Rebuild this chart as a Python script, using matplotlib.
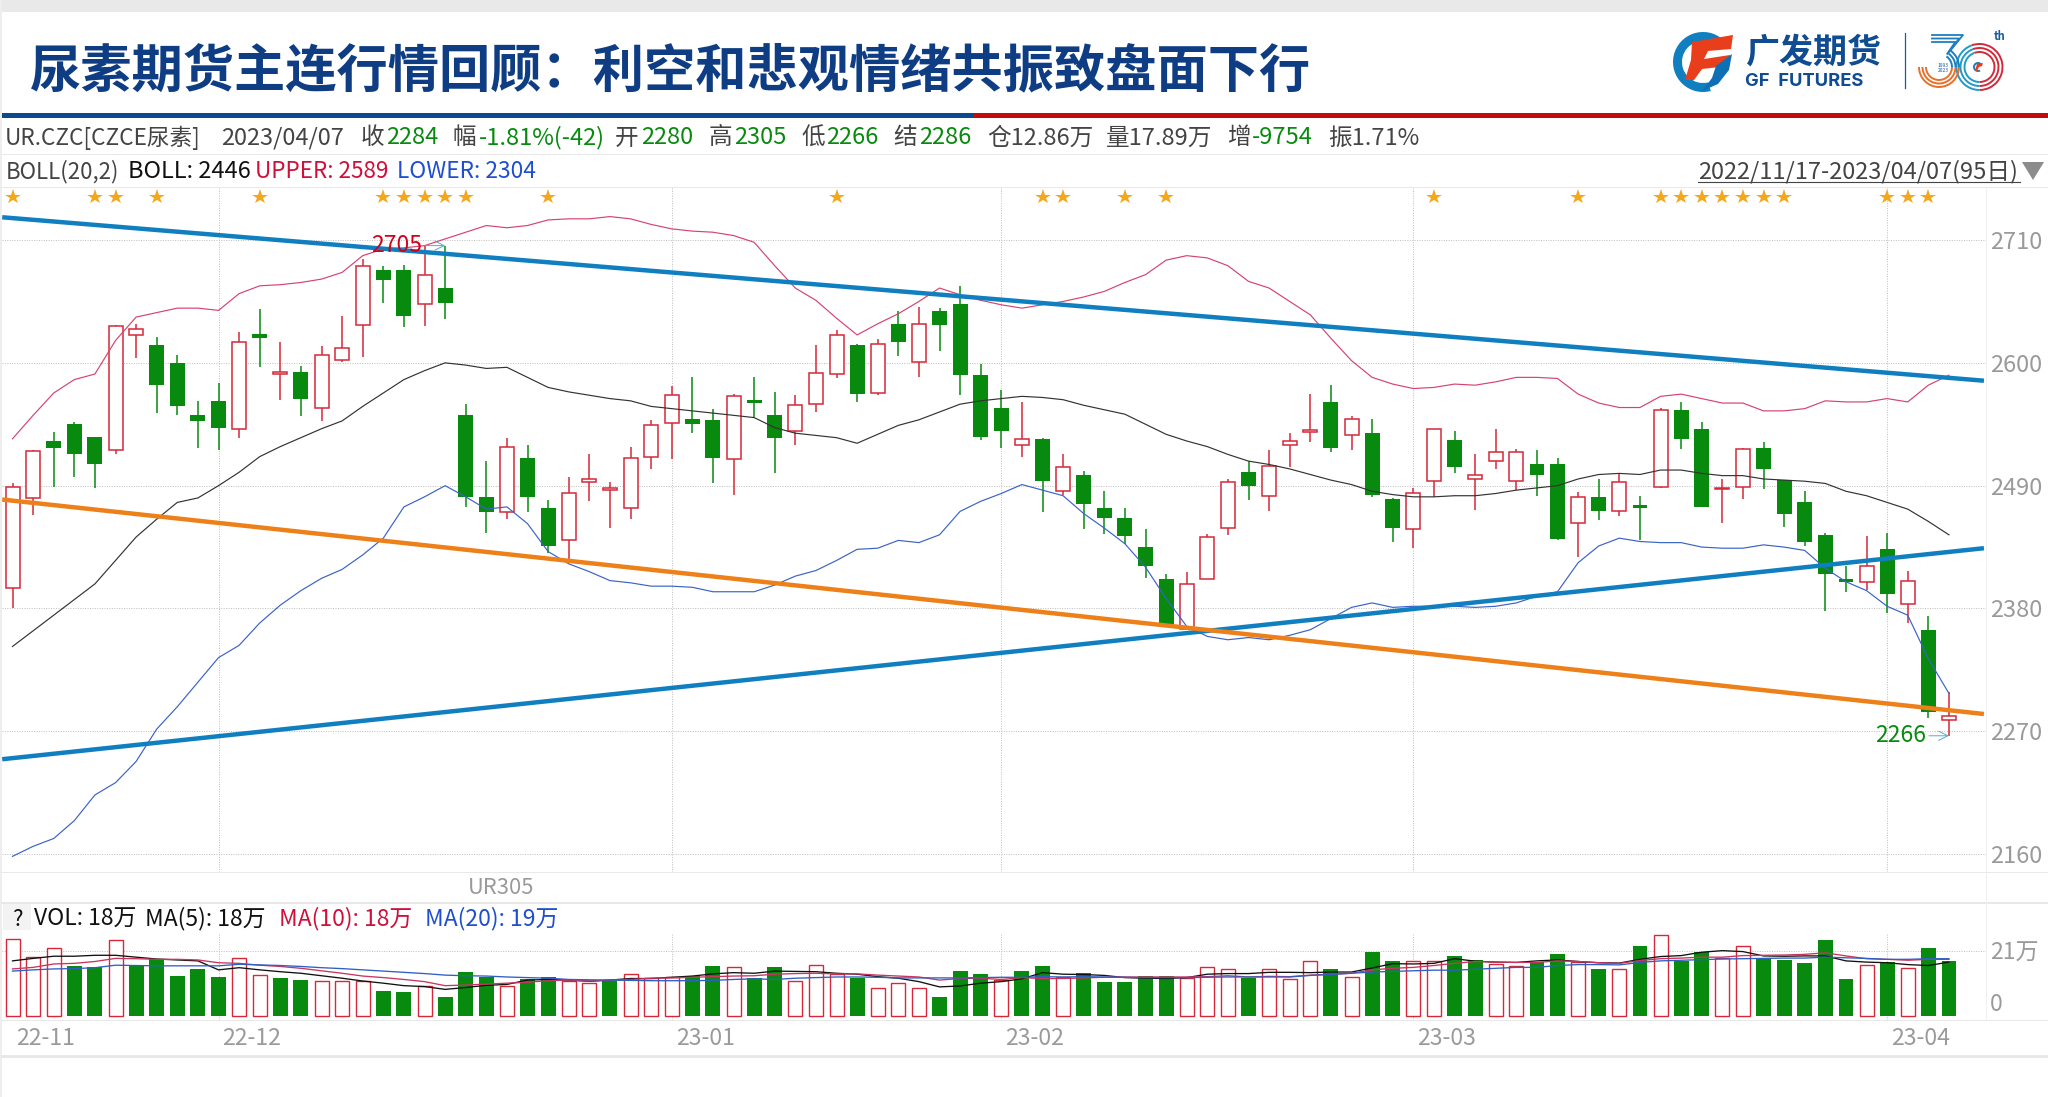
from matplotlib import pyplot as plt
from matplotlib.patches import Rectangle, Polygon, Wedge, Arc
from matplotlib.transforms import ScaledTranslation
import numpy as np

plt.rcParams['font.family'] = ['Noto Sans CJK SC', 'DejaVu Sans']

opens = [2398,2479,2530,2545,2534,2522,2625,2616,2600,2553,2566,2541,2626,2590,2592,2560,2603,2634,2683,2683,
         2653,2667,2553,2480,2466,2515,2470,2441,2493,2486,2470,2516,2546,2550,2549,2514,2567,2553,2539,2563,
         2590,2616,2573,2635,2601,2646,2653,2589,2560,2526,2532,2485,2500,2470,2461,2435,2406,2362,2406,2452,
         2502,2481,2526,2538,2565,2535,2537,2478,2451,2494,2531,2496,2512,2494,2509,2509,2457,2480,2467,2473,
         2489,2558,2541,2487,2489,2524,2495,2475,2446,2406,2404,2433,2384,2361,2280]
closes = [2489,2521,2524,2518,2509,2633,2630,2580,2561,2548,2542,2619,2622,2592,2568,2607,2613,2687,2674,2642,
          2679,2654,2480,2466,2525,2480,2436,2483,2496,2488,2515,2544,2571,2545,2515,2570,2564,2533,2562,2591,
          2625,2572,2617,2619,2635,2634,2589,2534,2539,2532,2494,2507,2474,2461,2445,2418,2366,2402,2444,2493,
          2490,2508,2530,2540,2524,2550,2482,2452,2483,2541,2507,2500,2520,2520,2500,2442,2480,2467,2493,2470,
          2558,2532,2471,2488,2523,2505,2465,2440,2411,2404,2418,2393,2405,2287,2284]
highs = [2492,2522,2538,2547,2534,2634,2635,2623,2607,2566,2582,2628,2648,2619,2597,2615,2642,2693,2687,2688,
         2705,2705,2563,2512,2533,2526,2477,2498,2518,2493,2525,2549,2579,2587,2559,2572,2587,2574,2571,2616,
         2629,2617,2621,2646,2650,2649,2669,2599,2576,2565,2533,2518,2503,2485,2470,2451,2411,2413,2447,2496,
         2512,2522,2537,2572,2580,2552,2550,2479,2488,2541,2539,2518,2541,2523,2522,2515,2484,2496,2501,2481,
         2560,2565,2547,2496,2524,2529,2495,2485,2448,2418,2445,2448,2414,2373,2305]
lows = [2380,2464,2489,2498,2488,2518,2604,2555,2553,2524,2522,2533,2596,2567,2552,2548,2601,2605,2654,2632,
        2633,2639,2471,2448,2460,2466,2430,2423,2476,2452,2460,2505,2514,2537,2492,2482,2551,2501,2526,2556,
        2586,2565,2571,2606,2587,2611,2571,2531,2524,2516,2466,2482,2451,2447,2438,2407,2363,2361,2406,2446,
        2477,2467,2507,2529,2520,2522,2480,2440,2434,2480,2501,2468,2505,2486,2481,2441,2426,2459,2463,2441,
        2488,2523,2471,2457,2478,2487,2453,2436,2378,2395,2397,2376,2367,2282,2266]

boll_upper = [2532,2553,2573,2585,2590,2620,2641,2645,2649,2649,2647,2662,2669,2670,2672,2675,2681,2696,2702,2703,
              2705,2711,2717,2723,2721,2723,2728,2729,2729,2731,2729,2724,2720,2718,2717,2714,2708,2687,2667,2656,
              2640,2625,2635,2644,2655,2667,2661,2656,2652,2649,2652,2655,2659,2664,2672,2679,2692,2696,2694,2687,
              2673,2667,2655,2643,2622,2602,2587,2581,2577,2578,2581,2580,2583,2587,2587,2586,2572,2564,2560,2560,
              2570,2572,2568,2564,2564,2557,2557,2559,2566,2565,2565,2568,2565,2580,2589]
boll_mid = [2346,2360,2374,2388,2402,2423,2444,2460,2475,2479,2490,2502,2516,2525,2533,2541,2548,2561,2573,2585,
            2593,2600,2598,2595,2596,2587,2578,2574,2571,2568,2566,2561,2559,2557,2555,2553,2551,2542,2537,2535,
            2533,2528,2536,2544,2549,2556,2563,2566,2568,2570,2569,2567,2562,2558,2554,2545,2536,2530,2525,2518,
            2512,2509,2505,2500,2495,2491,2485,2482,2480,2480,2481,2481,2483,2486,2488,2490,2496,2500,2501,2500,
            2504,2504,2501,2499,2499,2496,2495,2494,2492,2485,2481,2475,2469,2458,2446]
boll_lower = [2158,2167,2174,2190,2213,2224,2243,2272,2292,2314,2336,2347,2367,2383,2396,2407,2415,2428,2443,2471,
              2480,2490,2480,2469,2471,2456,2431,2420,2413,2405,2403,2400,2400,2399,2395,2395,2395,2401,2409,2414,
              2423,2433,2434,2441,2439,2446,2467,2476,2483,2491,2486,2481,2465,2452,2438,2417,2389,2364,2355,2352,
              2354,2352,2356,2361,2371,2381,2385,2381,2382,2382,2382,2381,2382,2385,2391,2395,2421,2436,2443,2440,
              2439,2439,2435,2434,2434,2437,2435,2432,2416,2404,2396,2382,2374,2335,2304]

# channel lines drawn on the chart, first and last point
trend_x = [-0.5, 95.7]
channel_top = [2730.4, 2584]
channel_bottom = [2245, 2434]
channel_orange = [2477.6, 2285.5]

star_bars = [0,4,5,7,12,18,19,20,21,22,26,40,50,51,54,56,69,76,80,81,82,83,84,85,86,91,92,93]

volume = [24.8,19.0,22.1,16.2,15.8,24.4,16.4,18.4,13.0,15.1,12.7,18.6,13.1,12.2,11.6,11.2,11.3,11.2,8.2,7.9,
          9.7,6.2,14.2,12.7,9.7,12.0,12.7,11.4,10.8,11.4,13.5,12.4,12.6,12.9,16.2,15.7,12.2,15.8,11.3,16.4,
          13.7,12.4,8.9,10.6,8.9,6.2,14.5,13.6,11.6,14.5,16.2,12.7,13.8,11.1,11.1,12.9,12.9,12.4,15.7,15.1,
          12.4,15.3,11.8,17.8,15.1,12.7,20.8,17.8,17.8,17.8,19.4,18.1,16.7,16.0,17.3,20.1,17.3,15.2,15.3,22.6,
          26.1,17.8,20.7,18.8,22.6,18.6,18.1,17.0,24.4,12.0,16.4,17.3,15.5,21.9,17.6]
volume_up = [1,1,1,0,0,1,0,0,0,0,0,1,1,0,0,1,1,1,0,0,
             1,0,0,0,1,0,0,1,1,0,1,1,1,0,0,1,0,0,1,1,
             1,0,1,1,1,0,0,0,1,0,0,1,0,0,0,0,0,1,1,1,
             0,1,1,1,0,1,0,0,1,1,0,0,1,1,0,0,1,0,1,0,
             1,0,0,1,1,0,0,0,0,0,1,0,1,0,0]
vol_ma5 = [17.8,18.6,19.3,19.3,19.6,19.6,19.0,18.4,18.1,17.8,14.9,15.6,14.9,14.3,13.8,13.0,12.2,11.3,10.6,9.8,
           9.5,8.6,9.2,9.9,10.2,11.6,11.8,11.6,11.2,11.6,12.1,12.1,12.5,12.9,13.6,14.0,13.8,14.5,14.4,14.3,
           13.8,13.5,12.7,12.2,11.1,9.4,9.7,10.6,11.1,12.0,14.0,13.5,13.4,13.1,12.4,12.2,12.1,12.4,13.5,13.7,
           13.7,14.1,14.1,14.0,14.2,14.2,15.5,16.9,16.8,17.0,18.5,17.7,17.4,17.3,17.8,18.1,17.6,17.2,17.1,18.3,
           19.2,19.5,20.6,21.1,20.8,19.4,19.3,19.4,19.4,17.8,17.4,17.2,16.6,16.3,17.4]
vol_ma10 = [15.2,15.7,16.8,17.0,17.6,18.6,18.5,18.3,18.3,18.1,17.2,17.0,16.4,16.0,15.4,14.6,13.8,12.9,12.4,11.8,
            11.1,9.8,10.0,10.3,10.6,10.9,11.4,11.6,11.3,11.6,11.8,12.2,12.3,12.5,12.7,12.9,13.0,13.5,13.7,13.8,
            13.6,13.6,13.2,12.9,12.6,11.6,12.1,12.2,11.8,12.4,12.1,12.1,12.3,12.5,12.6,12.6,12.6,12.6,12.7,13.0,
            12.6,12.8,12.7,13.2,13.5,13.8,14.9,15.4,15.7,16.3,17.0,17.6,17.4,17.3,17.3,17.8,17.6,17.2,17.0,17.9,
            18.5,18.7,19.0,19.0,19.5,19.6,19.7,19.9,20.4,19.4,18.5,18.3,18.0,18.3,18.3]
vol_ma20 = [14.5,14.9,15.2,15.3,15.6,16.4,16.3,16.2,16.2,16.2,16.2,16.7,16.5,16.3,16.0,15.6,15.3,14.9,14.5,14.1,
            13.7,13.2,13.0,12.9,12.6,12.4,12.2,11.8,11.7,11.6,11.5,11.4,11.4,11.4,11.5,11.8,12.0,11.8,12.2,12.4,
            12.6,12.6,12.5,12.3,12.3,12.3,12.3,12.4,12.5,12.5,12.7,12.6,12.7,12.6,12.5,12.4,12.4,12.4,12.5,12.6,
            12.6,12.6,12.6,13.1,13.4,13.8,14.2,14.4,14.6,14.8,14.8,15.1,15.4,15.7,15.7,16.3,16.6,16.6,16.5,17.3,
            17.8,18.0,18.2,18.4,18.5,18.6,18.7,18.7,19.0,18.8,18.6,18.3,18.3,18.5,18.5]

price_ticks = [2160,2270,2380,2490,2600,2710]
month_bars = [0,10,32,48,68,91]
month_labels = ["22-11","22-12","23-01","23-02","23-03","23-04"]

W, H = 2048, 1097
RED = "#d62839"
GREEN = "#078a0e"
GREY_TEXT = "#9a9a9a"
GRID = "#bdbdbd"
DARK = "#444444"
FS = 17

fig = plt.figure(figsize=(W/100, H/100), dpi=100, facecolor="white")

# whole page in pixels for the header, rules and logo
page = fig.add_axes([0, 0, 1, 1], zorder=0)
page.set_xlim(0, W)
page.set_ylim(H, 0)
page.axis("off")

def px_axes(x0, y0, x1, y1):
    ax = fig.add_axes([x0/W, 1-y1/H, (x1-x0)/W, (y1-y0)/H], zorder=1)
    ax.patch.set_visible(False)
    for s in ax.spines.values():
        s.set_visible(False)
    return ax

page.add_patch(Rectangle((0, 0), W, 12, color="#e9e9e9", lw=0))
page.add_patch(Rectangle((0, 0), 2, H, color="#eeeeee", lw=0))
page.add_patch(Rectangle((2, 113), 972, 5, color="#0c4a8f", lw=0))
page.add_patch(Rectangle((974, 113), W-974, 5, color="#c40c0c", lw=0))
for y, lw_ in [(154, 1), (187, 1), (872, 1), (903, 2), (1020, 1), (1056, 3)]:
    page.plot([2, W], [y, y], color="#e8e8e8", lw=lw_*0.72)
page.plot([1986, 1986], [187, 1020], color="#efefef", lw=0.7)

page.text(30, 71, "尿素期货主连行情回顾：利空和悲观情绪共振致盘面下行", fontsize=36.9,
          fontweight="bold", color="#0f3d84", va="center", ha="left")

# quote row
quote_row = [(5, "UR.CZC[CZCE尿素]", DARK, 16.3), (221, "2023/04/07", DARK, FS),
             (361, "收", DARK, FS), (386, "2284", GREEN, FS), (453, "幅", DARK, FS), (479, "-1.81%(-42)", GREEN, FS),
             (615, "开", DARK, FS), (641, "2280", GREEN, FS), (709, "高", DARK, FS), (734, "2305", GREEN, FS),
             (801, "低", DARK, FS), (826, "2266", GREEN, FS), (893, "结", DARK, FS), (919, "2286", GREEN, FS),
             (987, "仓12.86万", DARK, FS), (1106, "量17.89万", DARK, FS), (1227, "增", DARK, FS), (1252, "-9754", GREEN, FS),
             (1328, "振1.71%", DARK, FS)]
for x, s, c, fs in quote_row:
    page.text(x, 138, s, fontsize=fs, color=c, va="center", ha="left")

boll_row = [(6, "BOLL(20,2)", DARK, 16), (128, "BOLL: 2446", "#111111", FS),
            (255, "UPPER: 2589", "#d0103a", 16.2), (397, "LOWER: 2304", "#1f4fd0", 16.4)]
for x, s, c, fs in boll_row:
    page.text(x, 172, s, fontsize=fs, color=c, va="center", ha="left")
page.text(1698, 172, "2022/11/17-2023/04/07(95日)", fontsize=FS, color=DARK, va="center", ha="left")
page.plot([1698, 2020], [182, 182], color=DARK, lw=0.8)
page.add_patch(Polygon([(2022, 162), (2044, 162), (2033, 180)], color="#8c8c8c", lw=0))

page.text(468, 888, "UR305", fontsize=FS-1.2, color=GREY_TEXT, va="center", ha="left")
page.add_patch(Rectangle((3, 904), 28, 26, color="#f3f3f3", lw=0))
page.text(17, 919, "?", fontsize=FS-1, color="#111111", va="center", ha="center")
vol_row = [(34, "VOL: 18万", "#111111"), (145, "MA(5): 18万", "#111111"),
           (279, "MA(10): 18万", "#d0103a"), (425, "MA(20): 19万", "#1f4fd0")]
for x, s, c in vol_row:
    page.text(x, 919, s, fontsize=FS-0.5, color=c, va="center", ha="left")

# logo
page.add_patch(Wedge((1703, 62), 30, 75, 310, width=9, color="#0f7fc0", lw=0))
page.add_patch(Polygon([(1692, 42), (1733, 35), (1731, 49), (1708, 51), (1704, 59), (1730, 55), (1728, 66),
                        (1702, 69), (1694, 80), (1685, 80), (1691, 60)], color="#e83e1c", lw=0))
page.add_patch(Polygon([(1732, 54), (1729, 70), (1718, 84), (1702, 91), (1712, 78), (1716, 66)], color="#0f6fb5", lw=0))
page.text(1745, 52, "广发期货", fontsize=24.5, fontweight="bold", color="#0f4c92", va="center", ha="left")
page.text(1745, 81, "GF  FUTURES", fontsize=13.2, fontweight="bold", color="#0f4c92", va="center", ha="left",
          family="Inter")
page.plot([1905, 1905], [33, 88], color="#1d5a9e", lw=0.9)
for r in [23, 19, 15]:
    page.add_patch(Arc((1979.5, 67), 2*r, 2*r, theta1=-110, theta2=90, color="#d22a3a", lw=1.4))
    page.add_patch(Arc((1979.5, 67), 2*r, 2*r, theta1=90, theta2=250, color="#1f9ac9", lw=1.4))
for r in [20, 16.5, 13]:
    page.add_patch(Arc((1939, 67), 2*r, 2*r, theta1=0, theta2=180, color="#e8702a", lw=1.4))
    page.add_patch(Arc((1939, 67), 2*r, 2*r, theta1=-55, theta2=0, color="#1d7fc0", lw=1.4))
for dy in [0, 3.5, 7]:
    page.plot([1932, 1963-dy*1.1, 1950-dy*0.4], [35+dy, 35+dy, 51+dy*0.4], color="#1d7fc0", lw=1.3)
page.text(1943, 68, "1993\n2023", fontsize=3.6, color="#1d5a9e", ha="center", va="center", linespacing=1.0)
page.text(2000, 37, "th", fontsize=8, fontweight="bold", color="#1d5a9e", ha="center", va="center")
page.add_patch(Wedge((1978, 67), 5, 60, 320, width=2, color="#1d7fc0", lw=0))
page.add_patch(Polygon([(1977, 64), (1983, 63), (1982, 66), (1979, 67), (1977, 71), (1975, 71)], color="#e83e1c", lw=0))

# price panel
ax = px_axes(2, 187, 1986, 872)
x = np.arange(len(closes))
o = np.array(opens, float)
c = np.array(closes, float)
up = c >= o
ax.set_xlim(-0.51, 95.8)
ax.set_ylim(2144, 2757.5)

ax.yaxis.tick_right()
ax.set_yticks(price_ticks)
ax.tick_params(axis="y", length=0, pad=3, labelsize=FS, labelcolor=GREY_TEXT)
ax.set_xticks(month_bars[1:])
ax.tick_params(axis="x", length=0, labelbottom=False)
ax.grid(True, linestyle=(0, (1, 1.5)), color=GRID, lw=0.7)
ax.set_axisbelow(True)

ax.vlines(x[up], np.array(lows)[up], np.array(highs)[up], color=RED, lw=1.1, zorder=2)
ax.vlines(x[~up], np.array(lows)[~up], np.array(highs)[~up], color=GREEN, lw=1.1, zorder=2)
ax.bar(x[up], (c-o)[up], bottom=o[up], width=0.68, facecolor="white", edgecolor=RED, lw=1.1, zorder=3)
ax.bar(x[~up], (o-c)[~up], bottom=c[~up], width=0.72, color=GREEN, lw=0, zorder=3)

ax.plot(x, boll_upper, color="#d6436e", lw=0.85, zorder=4)
ax.plot(x, boll_mid, color="#333333", lw=0.85, zorder=4)
ax.plot(x, boll_lower, color="#3a62c8", lw=0.85, zorder=4)

ax.plot(trend_x, channel_top, color="#0f7fc0", lw=3.2, zorder=5, solid_capstyle="butt")
ax.plot(trend_x, channel_bottom, color="#0f7fc0", lw=3.2, zorder=5, solid_capstyle="butt")
ax.plot(trend_x, channel_orange, color="#ee8019", lw=3.2, zorder=5, solid_capstyle="butt")

ax.plot(star_bars, [0.985]*len(star_bars), linestyle="none", marker="*", ms=11.5, color="#f5a71c", mew=0,
        transform=ax.get_xaxis_transform(), clip_on=False, zorder=6)

ax.annotate("2705", xy=(21, 2705), xytext=(19.9, 2705), color="#d0021b", fontsize=FS-0.5, ha="right", va="center",
            arrowprops=dict(arrowstyle="->", color="#5aa9c8", lw=0.7, shrinkA=0, shrinkB=0), zorder=7)
ax.annotate("2266", xy=(94, 2266), xytext=(92.9, 2266), color=GREEN, fontsize=FS-0.5, ha="right", va="center",
            arrowprops=dict(arrowstyle="->", color="#5aa9c8", lw=0.7, shrinkA=0, shrinkB=0), zorder=7)

# volume panel
vol_ax = px_axes(2, 933, 1986, 1020)
vol = np.array(volume)
vup = np.array(volume_up, bool)
vol_ax.set_xlim(-0.51, 95.8)
vol_ax.set_ylim(-1.29, 26.8)
vol_ax.bar(x[vup], vol[vup], width=0.68, facecolor="white", edgecolor=RED, lw=1.0, zorder=2)
vol_ax.bar(x[~vup], vol[~vup], width=0.72, color=GREEN, lw=0, zorder=2)
vol_ax.plot(x, vol_ma5, color="#111111", lw=0.95, zorder=3)
vol_ax.plot(x, vol_ma10, color="#c8355f", lw=0.95, zorder=3)
vol_ax.plot(x, vol_ma20, color="#2f5fc4", lw=0.95, zorder=3)

vol_ax.axhline(21, linestyle=(0, (1, 1.5)), color=GRID, lw=0.7, zorder=1)
vol_ax.set_xticks(month_bars)
vol_ax.set_xticklabels(month_labels, ha="left", color=GREY_TEXT, fontsize=FS-0.4)
vol_ax.grid(True, axis="x", linestyle=(0, (1, 1.5)), color=GRID, lw=0.7)
vol_ax.get_xgridlines()[0].set_visible(False)
vol_ax.set_axisbelow(True)
vol_ax.tick_params(axis="x", length=0, pad=5)
for label in vol_ax.get_xticklabels():
    label.set_transform(label.get_transform() + ScaledTranslation(0.04, 0, fig.dpi_scale_trans))
vol_ax.yaxis.tick_right()
vol_ax.set_yticks([0, 21])
vol_ax.set_yticklabels(["0", "21万"], color=GREY_TEXT, fontsize=FS-0.4)
vol_ax.tick_params(axis="y", length=0, pad=3)
vol_ax.get_yticklabels()[0].set_va("bottom")

fig.savefig("out.png", dpi=100)
